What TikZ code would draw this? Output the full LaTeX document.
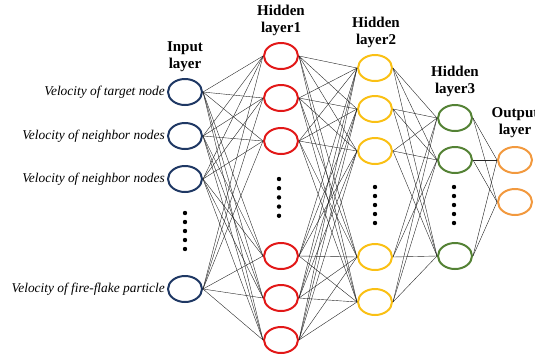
\documentclass[tikz,border=0pt]{standalone}
\usepackage{fontspec}
\setmainfont{Liberation Serif}
\usetikzlibrary{shapes.geometric}
\definecolor{inblue}{RGB}{31,56,100}
\definecolor{hred}{RGB}{226,24,24}
\definecolor{hyellow}{RGB}{250,192,20}
\definecolor{hgreen}{RGB}{84,130,53}
\definecolor{outorange}{RGB}{242,153,62}
\tikzset{
  neuron/.style={draw,ellipse,line width=2pt,minimum width=34pt,minimum height=26pt,inner sep=0pt},
  link/.style={line width=0.4pt,black!85},
  title/.style={align=center,font=\fontsize{15}{17}\selectfont\bfseries},
  feature/.style={anchor=east,inner sep=2pt,font=\fontsize{13.4}{15}\selectfont\itshape}
}
\begin{document}
\begin{tikzpicture}[x=1pt,y=-1pt]
\useasboundingbox (0,0) rectangle (535,357);

\node[neuron,inblue] (in1) at (185,92) {};
\node[neuron,inblue] (in2) at (185,136) {};
\node[neuron,inblue] (in3) at (185,179) {};
\node[neuron,inblue] (in4) at (185,289) {};

\node[neuron,hred] (ha1) at (281,56) {};
\node[neuron,hred] (ha2) at (281,98) {};
\node[neuron,hred] (ha3) at (281,141) {};
\node[neuron,hred] (ha4) at (281,256) {};
\node[neuron,hred] (ha5) at (281,298) {};
\node[neuron,hred] (ha6) at (281,340) {};

\node[neuron,hyellow] (hb1) at (375,68) {};
\node[neuron,hyellow] (hb2) at (375,109) {};
\node[neuron,hyellow] (hb3) at (375,151) {};
\node[neuron,hyellow] (hb4) at (375,257) {};
\node[neuron,hyellow] (hb5) at (375,302) {};

\node[neuron,hgreen] (hc1) at (455,118) {};
\node[neuron,hgreen] (hc2) at (455,160) {};
\node[neuron,hgreen] (hc3) at (455,256) {};

\node[neuron,outorange] (out1) at (515,160) {};
\node[neuron,outorange] (out2) at (515,202) {};

\foreach \i in {1,...,4}
  \foreach \j in {1,...,6}
    \draw[link] (in\i.east) -- (ha\j.west);
\foreach \i in {1,...,6}
  \foreach \j in {1,...,5}
    \draw[link] (ha\i.east) -- (hb\j.west);
\foreach \i in {1,...,5}
  \foreach \j in {1,...,3}
    \draw[link] (hb\i.east) -- (hc\j.west);
\foreach \i in {1,...,3}
  \foreach \j in {1,2}
    \draw[link] (hc\i.east) -- (out\j.west);

\foreach \k in {0,...,4} {
  \fill (185,213+9*\k) circle (2.2);
  \fill (279,179+9.2*\k) circle (2.2);
  \fill (375,187+9*\k) circle (2.2);
  \fill (454,187+9*\k) circle (2.2);
}

\node[title] (tin) at (185,57) {Input\\layer};
\node[title] (tha) at (281,20) {Hidden\\layer1};
\node[title] (thb) at (376,32) {Hidden\\layer2};
\node[title] (thc) at (455,81) {Hidden\\layer3};
\node[title] (tout) at (515,123) {Output\\layer};

\node[feature] (fin1) at (in1.west) {Velocity of target node};
\node[feature] (fin2) at (in2.west) {Velocity of neighbor nodes};
\node[feature] (fin3) at (in3.west) {Velocity of neighbor nodes};
\node[feature] (fin4) at (in4.west) {Velocity of fire-flake particle};

\end{tikzpicture}
\end{document}
